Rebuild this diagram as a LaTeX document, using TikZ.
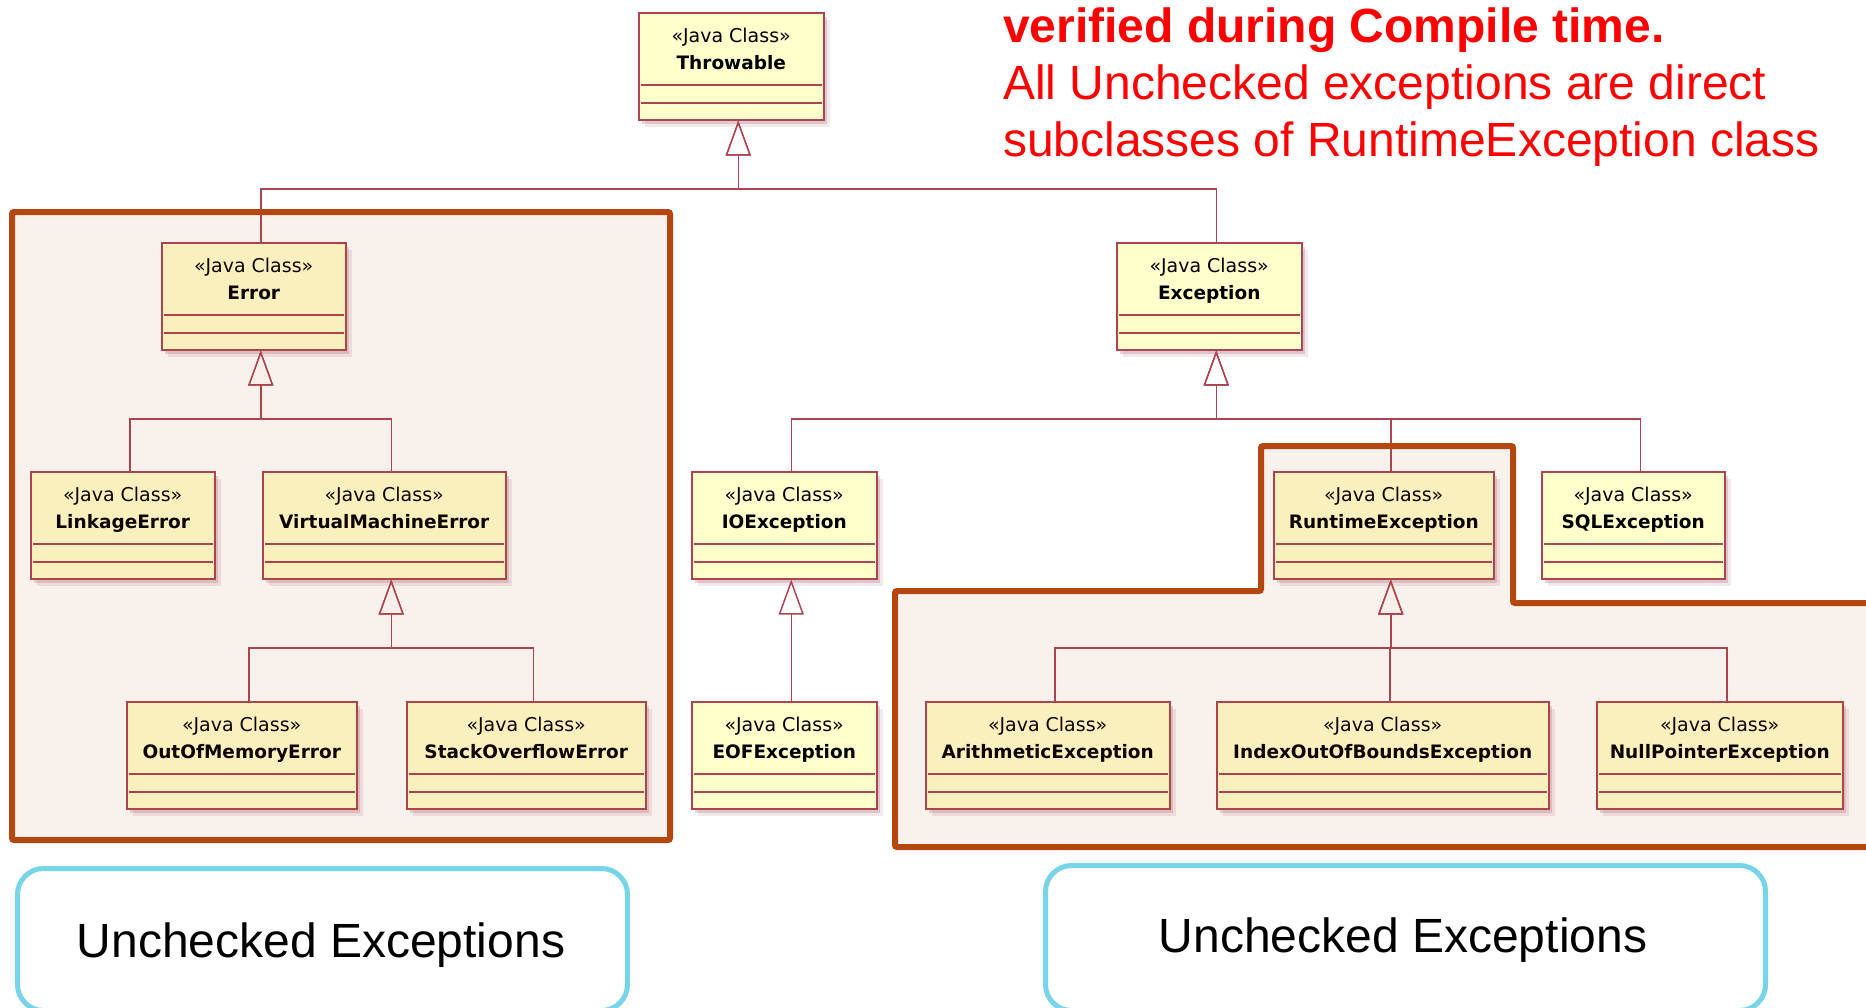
\documentclass[tikz,border=0pt]{standalone}
\usepackage{fontspec}
\setmainfont{Liberation Sans}
\newfontfamily\umlfont{DejaVu Sans}
\usetikzlibrary{arrows.meta,shadows,calc}

\definecolor{umlline}{RGB}{172,68,84}
\definecolor{umlfill}{RGB}{255,255,204}
\definecolor{umlshadow}{RGB}{150,70,90}
\definecolor{groupedge}{RGB}{180,71,15}
\definecolor{calloutedge}{RGB}{120,212,232}
\definecolor{notered}{RGB}{255,0,0}

\tikzset{
  classbox/.style={draw=umlline, fill=umlfill, line width=1.5pt,
    minimum height=107pt, inner sep=0pt, anchor=north west,
    drop shadow={shadow xshift=6pt, shadow yshift=-7pt, fill=umlshadow, opacity=.12},
    drop shadow={shadow xshift=3pt, shadow yshift=-4pt, fill=umlshadow, opacity=.22}},
  stereo/.style={font=\umlfont\fontsize{19}{22}\selectfont, anchor=base, inner sep=0pt},
  cname/.style={font=\umlfont\bfseries\fontsize{18.5}{22}\selectfont, anchor=base, inner sep=0pt},
  compart/.style={draw=umlline, line width=1.5pt},
  inh/.style={draw=umlline, line width=1.5pt,
    -{Triangle[length=35pt, width=25pt, fill=white]}},
  group/.style={draw=groupedge, line width=6pt, rounded corners=2pt,
    fill=groupedge, fill opacity=.08},
  callout/.style={draw=calloutedge, line width=5pt, rounded corners=26pt,
    fill=white, inner sep=0pt, anchor=north west},
  bigtext/.style={font=\fontsize{48}{58}\selectfont, anchor=base, inner sep=0pt},
  notetext/.style={text=notered, font=\fontsize{48}{57}\selectfont,
    anchor=base west, inner sep=0pt},
}

% a UML class box: name, left x, top y, width, class name
\newcommand\umlclass[5]{%
  \node[classbox, minimum width=#4pt] (#1) at (#2,#3) {};
  \node[stereo] (#1-st) at ([yshift=-30pt]#1.north) {«Java Class»};
  \node[cname] (#1-nm) at ([yshift=-57pt]#1.north) {#5};
  \draw[compart] ([shift={(3pt,-73pt)}]#1.north west) -- ([shift={(-3pt,-73pt)}]#1.north east);
  \draw[compart] ([shift={(3pt,-91pt)}]#1.north west) -- ([shift={(-3pt,-91pt)}]#1.north east);
}
% generalization: child, parent
\newcommand\inherits[2]{%
  \draw[inh] ([xshift=7pt]#1.north) |- ([shift={(7pt,-68.5pt)}]#2.south) -- ([xshift=7pt]#2.south);
}

\begin{document}
\begin{tikzpicture}[x=1pt, y=-1pt]
\useasboundingbox (0,0) rectangle (1866,1007);
\clip (0,0) rectangle (1866,1007);

% class hierarchy
\umlclass{thr}{638}{12}{185}{Throwable}
\umlclass{err}{161}{242}{184}{Error}
\umlclass{exc}{1116}{242}{185}{Exception}
\umlclass{link}{30}{471}{184}{LinkageError}
\umlclass{vme}{262}{471}{243}{VirtualMachineError}
\umlclass{ioe}{691}{471}{185}{IOException}
\umlclass{rte}{1273}{471}{220}{RuntimeException}
\umlclass{sql}{1541}{471}{183}{SQLException}
\umlclass{oom}{126}{701}{230}{OutOfMemoryError}
\umlclass{sof}{406}{701}{239}{StackOverflowError}
\umlclass{eof}{691}{701}{185}{EOFException}
\umlclass{ari}{925}{701}{244}{ArithmeticException}
\umlclass{ioob}{1216}{701}{332}{IndexOutOfBoundsException}
\umlclass{npe}{1596}{701}{246}{NullPointerException}

\inherits{err}{thr}
\inherits{exc}{thr}
\inherits{link}{err}
\inherits{vme}{err}
\inherits{oom}{vme}
\inherits{sof}{vme}
\inherits{ioe}{exc}
\inherits{rte}{exc}
\inherits{sql}{exc}
\inherits{eof}{ioe}
\inherits{ari}{rte}
\inherits{ioob}{rte}
\inherits{npe}{rte}

% unchecked groups
\draw[group] (12,212) rectangle (670,840);
\draw[group] (895,847) -- (895,591) -- (1261,591) -- (1261,446) -- (1513,446)
  -- (1513,603) -- (1900,603) -- (1900,847) -- cycle;

% notes
\node[notetext, font=\bfseries\fontsize{48}{57}\selectfont] (note1) at (1003,42) {verified during Compile time.};
\node[notetext] (note2) at (1003,99) {All Unchecked exceptions are direct};
\node[notetext] (note3) at (1003,156) {subclasses of RuntimeException class};

% callouts
\node[callout, minimum width=610pt, minimum height=142pt] (uncL) at (15,866) {};
\node[bigtext] (uncL-t) at (321,957) {Unchecked Exceptions};
\node[callout, minimum width=720pt, minimum height=145pt] (uncR) at (1043,863) {};
\node[bigtext] (uncR-t) at (1403,952) {Unchecked Exceptions};
\end{tikzpicture}
\end{document}
